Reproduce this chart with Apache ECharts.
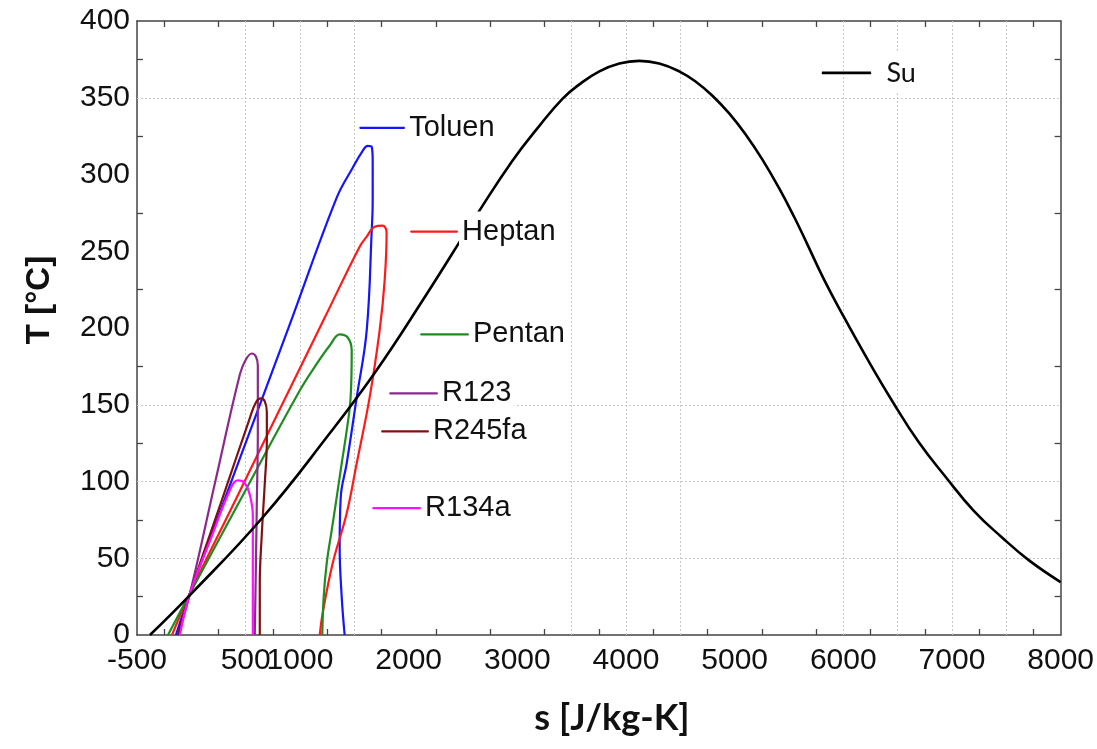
<!DOCTYPE html>
<html><head><meta charset="utf-8">
<script src="https://cdn.jsdelivr.net/npm/echarts@6/dist/echarts.min.js"></script>
<style>html,body{margin:0;padding:0;background:#fff}#c{width:1097px;height:749px}</style>
</head><body><div id="c"></div>
<script>
// ---- axis definitions ----
const xLabelValues = [-500, 500, 1000, 2000, 3000, 4000, 5000, 6000, 7000, 8000];
const xTickValues = [-250, 250, 750, 1250, 1750, 2250, 2750, 3250, 3750, 4250, 4750, 5250, 5750, 6250, 6750, 7250, 7750];
const yLabelValues = [0, 50, 100, 150, 200, 250, 300, 350, 400];
const yTickValues = [25, 75, 125, 175, 225, 275, 325, 375];
const xGridValues = [500, 1000, 1500, 3500, 4000, 4500, 6000, 6500, 7000, 7500];
const yGridValues = [50, 100, 150, 350];

// ---- saturation curves [s, T] ----
const su = [[-381,0],[-13,26],[658,76.7],[1274,131.4],[1700,172],[2128,217.9],[2634,274.5],[2955,309],[3203,331.7],[3415,349.3],[3571,358.7],[3755,367.2],[3939,372.3],[4122,374],[4306,372.3],[4490,367.2],[4646,360.3],[4793,351.5],[4950,339.8],[5106,325.6],[5253,310],[5409,291.1],[5547,272.5],[5666,255],[5823,231.5],[5988,209.4],[6218,180.2],[6447,152.8],[6695,125.5],[6944,102.8],[7201,80.9],[7458,63.7],[7706,48.8],[8000,34.5]];
const toluen = [[-142,0],[-13,27],[447,115.1],[906,202.3],[1338,284.9],[1485,304.4],[1577,315.4],[1623,318.7],[1660,318],[1669,309],[1669,282.9],[1660,263.4],[1614,198.4],[1522,154.8],[1430,111.9],[1375,89.8],[1365,57.2],[1384,24.7],[1411,0]];
const heptan = [[-178,0],[-13,27],[401,87.2],[814,147],[1228,206.8],[1549,253],[1614,259.5],[1687,266],[1761,266.7],[1797,262.2],[1779,230.9],[1733,198.4],[1641,154.8],[1522,111.9],[1430,79.3],[1301,46.8],[1209,14.3],[1182,0]];
const pentan = [[-215,0],[-13,27],[493,93.5],[998,159.3],[1163,177.6],[1274,188.6],[1366,195.8],[1439,193.8],[1476,185.4],[1466,154.8],[1430,133.3],[1384,111.9],[1338,89.8],[1292,68.3],[1246,46.8],[1218,24.7],[1205,0]];
const r123 = [[-123,0],[-13,27],[217,98.9],[447,169.8],[502,179.5],[557,183.4],[594,181.5],[612,175.6],[612,152.8],[612,131.4],[603,87.8],[594,44.2],[584,0]];
const r245fa = [[-123,0],[-13,27],[281,87.8],[539,141.5],[594,151.5],[639,154.1],[676,152.2],[695,145],[695,126.8],[676,98.9],[649,66.3],[630,33.8],[630,0]];
const r134a = [[-105,0],[-13,27],[189,64.4],[355,94.3],[428,100.8],[492,98.9],[539,91.1],[566,78],[566,48.8],[566,0]];

// ---- inline legend labels ----
const labelNames = ['Toluen', 'Heptan', 'Pentan', 'R123', 'R245fa', 'R134a', 'Su'];
const labelSegStart = [1550, 2018, 2110, 1825, 1751, 1669, 5804];
const labelSegEnd = [1963, 2450, 2551, 2266, 2183, 2110, 6254];
const labelT = [330.4, 262.8, 195.8, 157.4, 132.7, 82.6, 366.2];

const curves = [toluen, heptan, pentan, r123, r245fa, r134a, su];
const colors = ['#1414ff', '#ff1a1a', '#1f8c1f', '#8c2a8c', '#801010', '#ff10ff', '#000000'];
const widths = [2.2, 2.2, 2.2, 2.2, 2.2, 2.2, 2.6];
const smoothness = [0.4, 0.4, 0.4, 0.4, 0.4, 0.4, 0.45];

const axisFont = 'Liberation Sans, Arial, sans-serif';
const frame = {show: true, onZero: false, lineStyle: {color: '#444', width: 1.5}};
const gridLine = {color: '#c9c9c9', width: 1, type: [2, 2]};
const tickStyle = {color: '#444', width: 1.3};
const fmt = v => String(v);

const series = [];
curves.forEach((c, i) => {
  const s = {
    type: 'line', name: labelNames[i], data: c, showSymbol: false, smooth: smoothness[i],
    lineStyle: {color: colors[i], width: widths[i]}, z: 2, animation: false, silent: true
  };
  if (i === 6) {
    s.markLine = {
      silent: true, symbol: 'none', z: 1, animation: false,
      label: {show: false},
      lineStyle: gridLine,
      data: xGridValues.map(v => ({xAxis: v})).concat(yGridValues.map(v => ({yAxis: v})))
    };
  }
  series.push(s);
});
labelNames.forEach((n, i) => {
  const isSu = n === 'Su';
  series.push({
    type: 'line', name: n + '_lbl', z: 4, animation: false, silent: true,
    symbol: 'circle', symbolSize: 1, showSymbol: true,
    itemStyle: {color: colors[i]},
    lineStyle: {color: colors[i], width: widths[i]},
    data: [[labelSegStart[i], labelT[i]], {
      value: [labelSegEnd[i], labelT[i]],
      label: {
        show: true, position: 'right', formatter: n,
        distance: isSu ? 12 : 1,
        fontFamily: isSu ? 'Lato, sans-serif' : axisFont,
        fontSize: isSu ? 27 : 29, color: '#111',
        backgroundColor: '#fff', padding: [4, 3], lineHeight: 32
      }
    }]
  });
});

const chart = echarts.init(document.getElementById('c'), null, {renderer: 'canvas'});
chart.setOption({
  backgroundColor: '#fff',
  animation: false,
  grid: {left: 137, right: 35, top: 21, bottom: 114, containLabel: false},
  xAxis: [{
    type: 'value', position: 'bottom', min: -500, max: 8000,
    axisLine: frame,
    axisTick: {show: true, inside: true, length: 6, customValues: xTickValues, lineStyle: tickStyle},
    axisLabel: {customValues: xLabelValues, formatter: fmt, fontSize: 30, fontFamily: axisFont, color: '#111', margin: 11},
    splitLine: {show: false}
  }, {
    type: 'value', position: 'top', min: -500, max: 8000,
    axisLine: frame,
    axisTick: {show: true, inside: true, length: 6, customValues: xTickValues, lineStyle: tickStyle},
    axisLabel: {show: false}, splitLine: {show: false}
  }],
  yAxis: [{
    type: 'value', position: 'left', min: 0, max: 400,
    axisLine: frame,
    axisTick: {show: true, inside: true, length: 6, customValues: yTickValues, lineStyle: tickStyle},
    axisLabel: {customValues: yLabelValues, formatter: fmt, fontSize: 30, fontFamily: axisFont, color: '#111', margin: 7},
    splitLine: {show: false}
  }, {
    type: 'value', position: 'right', min: 0, max: 400,
    axisLine: frame,
    axisTick: {show: true, inside: true, length: 6, customValues: yTickValues, lineStyle: tickStyle},
    axisLabel: {show: false}, splitLine: {show: false}
  }],
  graphic: [{
    type: 'text', x: 40, y: 300, rotation: Math.PI / 2,
    style: {text: 'T [°C]', font: 'bold 33px ' + axisFont, fill: '#111', align: 'center', verticalAlign: 'middle'}
  }, {
    type: 'text', x: 612, y: 718,
    style: {text: 's [J/kg-K]', font: 'bold 36px Lato, sans-serif', fill: '#111', align: 'center', verticalAlign: 'middle'}
  }],
  series: series
});
</script></body></html>
